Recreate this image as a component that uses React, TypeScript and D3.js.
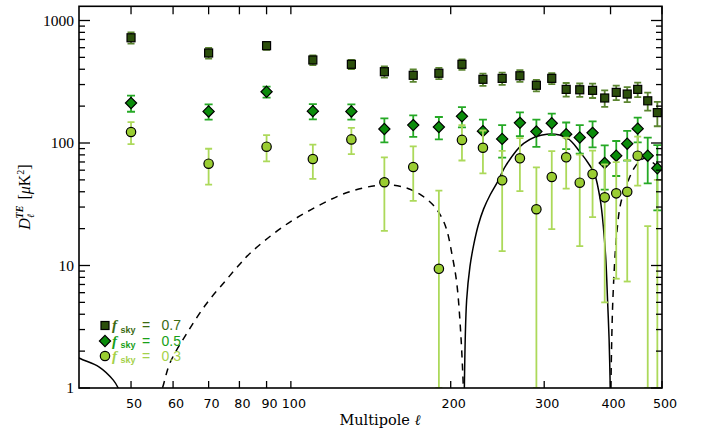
import React from 'react';
import * as d3 from 'd3';

// Multipole bins
const ELL = [50, 70, 90, 110, 130, 150, 170, 190, 210, 230, 250, 270, 290, 310, 330, 350, 370, 390, 410, 430, 450, 470, 490];
// f_sky = 0.7 (squares)
const D07 = [723, 543, 623, 476, 439, 382, 357, 371, 439, 331, 337, 354, 296, 337, 274, 272, 269, 233, 259, 251, 274, 221, 177];
const E07 = [76, 54, 46, 44, 37, 40, 41, 39, 43, 38, 39, 39, 32, 35, 35, 34, 36, 36, 35, 35, 37, 37, 40];
// f_sky = 0.5 (diamonds)
const D05 = [212, 181, 262, 182, 181, 130, 140, 135, 165, 125, 108, 146, 124, 145, 118, 111, 121, 68.7, 78.8, 98.7, 131, 78.8, 62.2];
const E05 = [32, 26, 27, 26, 26, 29, 28, 28, 31, 30, 32, 32, 31, 29, 29, 29, 29, 27, 25, 27, 30, 32, 34];
// f_sky = 0.3 (circles)
const D03 = [123, 67.8, 93.3, 74, 107, 47.8, 63.7, 9.4, 106, 91.5, 49.6, 75, 28.8, 52.8, 76.4, 47.4, 55.8, 36, 38.8, 40, 78.8, -12, -10];
const E03 = [25, 22, 22.5, 23, 26, 28.6, 30, 31.4, 34, 35, 36.5, 34.5, 34.5, 33, 34, 33, 31, 31, 31, 32.6, 34, 33, 60];

// Theory TE spectrum (signed)
const TH_L = [38, 40, 43.5, 46.3, 47.3, 48.3,
  56.2, 57.3, 59.2, 63.7, 69.4, 75.5, 80.2, 83.8, 96.6, 111.8, 129, 149.5, 165, 176, 185.5, 192, 196.6, 201, 205.3, 208.9, 211.3,
  212.2, 214.3, 217.4, 221, 225.5, 230.7, 237.5, 244.9, 254.3, 274.5, 303.6, 331.9, 350, 367, 373, 382.6, 388, 392, 395, 397.5, 399.5,
  400.6, 404, 411, 418.6, 432.5, 443.7, 455, 465, 475, 490, 500];
const TH_D = [2.0, 1.75, 1.49, 1.16, 1.0, 0.8,
  -0.8, -1.0, -1.6, -2.8, -4.9, -7.6, -10.3, -12.6, -20.7, -30.2, -40, -45.5, -43, -37.5, -31, -25, -19.5, -12.5, -7.2, -2.8, -1.0,
  1.0, 5.2, 9.8, 14.8, 21.5, 29, 38, 48, 66, 99.4, 117.8, 109.1, 85, 64, 56.5, 34.3, 20, 11, 5, 2.5, 1.0,
  -1.0, -5.2, -18.4, -33, -50, -63, -72, -75, -72, -64, -58];

const X_TICKS = [50, 60, 70, 80, 90, 100, 200, 300, 400, 500];
const Y_MAJOR = [1, 10, 100, 1000];
const LEGEND_LABELS = ['0.7', '0.5', '0.3'];

const W = 708, H = 433;
const L = 79, R = 662, T = 6.3, B = 388;

const x = d3.scaleLog().domain([39.9, 500]).range([L, R]);
const y = d3.scaleLog().domain([1, 1306]).range([B, T]);

const COLORS = {
  s07: { fill: '#2c4f0c', bar: '#5b8530', text: '#3b6a12' },
  s05: { fill: '#0b8c0b', bar: '#25a925', text: '#18a018' },
  s03: { fill: '#9acd32', bar: '#acd95a', text: '#a4d14a' },
};

function minorTicks(): number[] {
  const out: number[] = [];
  for (const dec of [1, 10, 100, 1000]) {
    for (let k = 2; k <= 9; k++) {
      const v = k * dec;
      if (v <= 1306) out.push(v);
    }
  }
  return out;
}

function ErrorBars({ vals, errs, color, cap }: { vals: number[]; errs: number[]; color: string; cap: number }) {
  return (
    <g stroke={color} strokeWidth={1.8}>
      {ELL.map((l, i) => {
        const hi = vals[i] + errs[i];
        const lo = Math.max(vals[i] - errs[i], 1);
        const px = x(l);
        const y1 = y(hi);
        const y2 = y(lo);
        return (
          <g key={i}>
            <line x1={px} x2={px} y1={y1} y2={y2} />
            <line x1={px - cap} x2={px + cap} y1={y1} y2={y1} />
            <line x1={px - cap} x2={px + cap} y1={y2} y2={y2} />
          </g>
        );
      })}
    </g>
  );
}

function Marker({ kind, cx, cy, fill }: { kind: string; cx: number; cy: number; fill: string }) {
  if (kind === 'square') {
    const s = 8;
    return <rect x={cx - s / 2} y={cy - s / 2} width={s} height={s} fill={fill} stroke="#000" strokeWidth={1.2} />;
  }
  if (kind === 'diamond') {
    const r = 5.6;
    return <path d={`M${cx},${cy - r}L${cx + r},${cy}L${cx},${cy + r}L${cx - r},${cy}Z`} fill={fill} stroke="#000" strokeWidth={1.2} />;
  }
  return <circle cx={cx} cy={cy} r={4.7} fill={fill} stroke="#000" strokeWidth={1.2} />;
}

function Series({ vals, errs, kind, c, cap }: { vals: number[]; errs: number[]; kind: string; c: { fill: string; bar: string }; cap: number }) {
  return (
    <g>
      <ErrorBars vals={vals} errs={errs} color={c.bar} cap={cap} />
      {ELL.map((l, i) =>
        vals[i] >= 1 ? <Marker key={i} kind={kind} cx={x(l)} cy={y(vals[i])} fill={c.fill} /> : null
      )}
    </g>
  );
}

function theorySegments() {
  const segs: { pos: boolean; pts: [number, number][] }[] = [];
  let cur: { pos: boolean; pts: [number, number][] } | null = null;
  TH_L.forEach((l, i) => {
    const d = TH_D[i];
    const pos = d > 0;
    if (!cur || cur.pos !== pos) {
      cur = { pos, pts: [] };
      segs.push(cur);
    }
    cur.pts.push([l, Math.abs(d)]);
  });
  return segs;
}

export default function App() {
  const line = d3.line<[number, number]>()
    .x(d => x(d[0]))
    .y(d => y(d[1]))
    .curve(d3.curveCatmullRom.alpha(0.5));
  const segs = theorySegments();
  const legendRows = [
    { kind: 'square', c: COLORS.s07, label: LEGEND_LABELS[0] },
    { kind: 'diamond', c: COLORS.s05, label: LEGEND_LABELS[1] },
    { kind: 'circle', c: COLORS.s03, label: LEGEND_LABELS[2] },
  ];
  const legendY = [325.5, 341, 356];

  return (
    <svg width={W} height={H} style={{ position: 'absolute', left: 0, top: 0, background: '#fff' }}>
      <defs>
        <clipPath id="plotclip">
          <rect x={L} y={T} width={R - L} height={B - T} />
        </clipPath>
      </defs>
      <rect x={0} y={0} width={W} height={H} fill="#fff" />

      {/* theory curve */}
      <g clipPath="url(#plotclip)" fill="none" stroke="#000" strokeWidth={1.5}>
        {segs.map((s, i) => (
          <path key={i} d={line(s.pts) || ''} strokeDasharray={s.pos ? undefined : '7,6'} />
        ))}
      </g>

      {/* data */}
      <g clipPath="url(#plotclip)">
        <Series vals={D07} errs={E07} kind="square" c={COLORS.s07} cap={3.5} />
        <Series vals={D05} errs={E05} kind="diamond" c={COLORS.s05} cap={4} />
        <Series vals={D03} errs={E03} kind="circle" c={COLORS.s03} cap={3.5} />
      </g>

      {/* frame */}
      <rect x={L} y={T} width={R - L} height={B - T} fill="none" stroke="#000" strokeWidth={1.6} />

      {/* ticks */}
      <g stroke="#000" strokeWidth={1.3}>
        {X_TICKS.map(t => (
          <g key={t}>
            <line x1={x(t)} x2={x(t)} y1={B} y2={B - 7} />
            <line x1={x(t)} x2={x(t)} y1={T} y2={T + 8} />
          </g>
        ))}
        {Y_MAJOR.map(t => (
          <g key={t}>
            <line x1={L} x2={L + 11} y1={y(t)} y2={y(t)} />
            <line x1={R} x2={R - 11} y1={y(t)} y2={y(t)} />
          </g>
        ))}
        {minorTicks().map(t => (
          <g key={t}>
            <line x1={L} x2={L + 6} y1={y(t)} y2={y(t)} />
            <line x1={R} x2={R - 6} y1={y(t)} y2={y(t)} />
          </g>
        ))}
      </g>

      <g fontFamily="DejaVu Sans" fontSize={12.7} fill="#000" textAnchor="middle">
        {X_TICKS.map(t => (
          <text key={t} x={x(t) + 3} y={408}>{t}</text>
        ))}
      </g>
      <g fontFamily="Liberation Serif" fontSize={15.5} fill="#000" textAnchor="end">
        {Y_MAJOR.map(t => (
          <text key={t} x={74} y={y(t) + 5.3}>{t}</text>
        ))}
      </g>

      {/* axis titles */}
      <text x={380} y={425} fontFamily="DejaVu Serif" fontSize={14.5} textAnchor="middle" fill="#000">
        Multipole <tspan fontStyle="italic">ℓ</tspan>
      </text>
      <text transform="translate(30,197) rotate(-90)" fontFamily="Liberation Serif" fontSize={16} textAnchor="middle" fill="#000">
        <tspan fontStyle="italic">D</tspan>
        <tspan fontStyle="italic" fontSize={10} dy={3.5}>ℓ</tspan>
        <tspan fontStyle="italic" fontWeight="bold" fontSize={10} dy={-10.5} dx={-4.5}>TE</tspan>
        <tspan dy={7} dx={6}>[</tspan>
        <tspan fontStyle="italic">μ</tspan>
        <tspan>K</tspan>
        <tspan fontSize={10} dy={-6}>2</tspan>
        <tspan dy={6}>]</tspan>
      </text>

      {/* legend */}
      {legendRows.map((r, i) => (
        <g key={i}>
          <Marker kind={r.kind} cx={105} cy={legendY[i]} fill={r.c.fill} />
          <text x={112} y={legendY[i] + 4.5} fill={r.c.text}>
            <tspan fontFamily="Liberation Serif" fontStyle="italic" fontWeight="bold" fontSize={15}>f</tspan>
            <tspan fontFamily="Liberation Sans" fontWeight="bold" fontSize={9} dy={2.5} x={120.5}>sky</tspan>
            <tspan fontFamily="Liberation Sans" fontSize={14} dy={-2.5} x={142}>=</tspan>
            <tspan fontFamily="Liberation Sans" fontSize={14} x={161.5}>{r.label}</tspan>
          </text>
        </g>
      ))}
    </svg>
  );
}
